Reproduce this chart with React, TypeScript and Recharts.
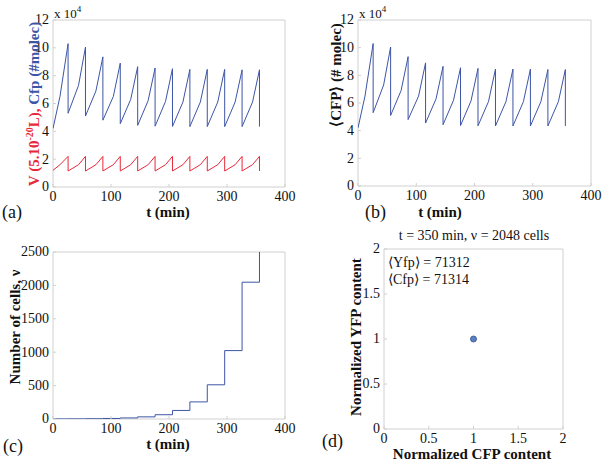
import { Line, LineChart, ReferenceArea, Scatter, ScatterChart, XAxis, YAxis } from 'recharts';

// time (min) and protein content for the single lineage plotted in (a) and (b)
const cfpTime = [
  0, 12, 26, 26, 44, 56, 56, 74, 86, 86, 104, 116, 116, 134, 146, 146, 164, 176, 176, 194, 206, 206,
  224, 236, 236, 254, 266, 266, 284, 296, 296, 314, 326, 326, 344, 356, 356,
];
const cfpMolec = [
  42000, 65000, 103000, 53000, 73000, 100500, 51000, 69000, 93500, 48000, 65000, 89000, 45500, 63000,
  86500, 44300, 62000, 85500, 43700, 61500, 85000, 43500, 61000, 84500, 43400, 61000, 84500, 43400,
  61000, 84500, 43400, 61000, 84200, 43400, 61000, 84200, 43400,
];
const volTime = cfpTime;
const volume = [
  12000, 16000, 22000, 11500, 16000, 22000, 11500, 16000, 22000, 11500, 16000, 22000, 11500, 16000,
  22000, 11500, 16000, 22000, 11500, 16000, 22000, 11500, 16000, 22000, 11500, 16000, 22000, 11500,
  16000, 22000, 11500, 16000, 22000, 11500, 16000, 22000, 11500,
];

// population size after each division
const divisionTime = [0, 26, 56, 86, 116, 146, 176, 206, 236, 266, 296, 326, 356];
const cellCount = [1, 2, 4, 8, 16, 32, 64, 128, 256, 512, 1024, 2048, 4096];

// normalized distribution at t = 350 min
const normCfp = [1];
const normYfp = [1];

const timeTicks = [0, 100, 200, 300, 400];
const cfpTicks = [0, 20000, 40000, 60000, 80000, 100000, 120000];
const cellTicks = [0, 500, 1000, 1500, 2000, 2500];
const normTicks = [0, 0.5, 1, 1.5, 2];

const W = 605;
const H = 461;
const FONT = '"Liberation Serif", "Times New Roman", serif';
const BLUE = '#3d55a6';
const RED = '#e8283a';
const FRAME = '#d0d0d0';

const cfpRows = cfpTime.map((t, i) => ({ t, cfp: cfpMolec[i] }));
const volRows = volTime.map((t, i) => ({ t, v: volume[i] }));
const cellRows = divisionTime.map((t, i) => ({ t, n: cellCount[i] }));
const normRows = normCfp.map((x, i) => ({ x, y: normYfp[i] }));

const box = (left: number, top: number, right: number, bottom: number) => ({
  top,
  left: left - 40,
  right: W - right,
  bottom: H - bottom - 30,
});

const layer: React.CSSProperties = { position: 'absolute', left: 0, top: 0, fontFamily: FONT };

const XTick = (p: any) => (
  <text x={p.x} y={p.y} dy="0.71em" textAnchor="middle" fontFamily={FONT} fontSize={14} fill="#111">
    {p.payload.value}
  </text>
);

const yTick = (fmt?: (v: number) => string) => (p: any) => (
  <text x={p.x} y={p.y} dy="0.32em" textAnchor="end" fontFamily={FONT} fontSize={14} fill="#111">
    {fmt ? fmt(p.payload.value) : p.payload.value}
  </text>
);

function axes(xKey: string, xDomain: number[], xTicks: number[], yKey: string, yDomain: number[], yTicks: number[], yFmt?: (v: number) => string) {
  return [
    <XAxis
      key="x"
      dataKey={xKey}
      type="number"
      domain={xDomain}
      ticks={xTicks}
      height={30}
      axisLine={false}
      tickLine={{ stroke: FRAME }}
      tickSize={-3}
      tickMargin={7}
      tick={XTick}
      interval={0}
      allowDataOverflow
    />,
    <YAxis
      key="y"
      dataKey={yKey}
      type="number"
      domain={yDomain}
      ticks={yTicks}
      width={40}
      axisLine={false}
      tickLine={{ stroke: FRAME }}
      tickSize={-3}
      tickMargin={7}
      tick={yTick(yFmt)}
      interval={0}
      allowDataOverflow
    />,
    <ReferenceArea key="frame" x1={xDomain[0]} x2={xDomain[1]} y1={yDomain[0]} y2={yDomain[1]} fill="none" stroke={FRAME} strokeWidth={1} fillOpacity={0} />,
  ];
}

function CfpPanel({ margin, withVolume }: { margin: any; withVolume: boolean }) {
  return (
    <div style={layer}>
      <LineChart width={W} height={H} margin={margin}>
        {axes('t', [0, 400], timeTicks, 'cfp', [0, 120000], cfpTicks, (v: number) => String(v / 10000))}
        {withVolume && (
          <Line data={volRows} dataKey="v" type="linear" stroke={RED} strokeWidth={1} dot={false} isAnimationActive={false} />
        )}
        <Line data={cfpRows} dataKey="cfp" type="linear" stroke={BLUE} strokeWidth={1} dot={false} isAnimationActive={false} />
      </LineChart>
    </div>
  );
}

export default function App() {
  const bold = { fontFamily: FONT, fontWeight: 700, fontSize: 15, fill: '#111' } as const;
  const plain = { fontFamily: FONT, fontSize: 14, fill: '#111' } as const;
  const letter = { fontFamily: FONT, fontSize: 18, fill: '#111' } as const;
  return (
    <div style={{ position: 'absolute', left: 0, top: 0, width: W, height: H, background: '#fff', fontFamily: FONT }}>
      <CfpPanel margin={box(53, 20, 285, 187)} withVolume />
      <CfpPanel margin={box(358, 20, 591, 186)} withVolume={false} />

      <div style={layer}>
        <LineChart width={W} height={H} margin={box(53, 252, 285, 419)}>
          {axes('t', [0, 400], timeTicks, 'n', [0, 2500], cellTicks)}
          <Line data={cellRows} dataKey="n" type="stepAfter" stroke={BLUE} strokeWidth={1} dot={false} isAnimationActive={false} />
        </LineChart>
      </div>

      <div style={layer}>
        <ScatterChart width={W} height={H} margin={box(384, 249, 563, 429)}>
          {axes('x', [0, 2], normTicks, 'y', [0, 2], normTicks)}
          <Scatter
            data={normRows}
            isAnimationActive={false}
            shape={(p: any) => <circle cx={p.cx} cy={p.cy} r={3} fill="#5d80c4" stroke="#2f4f8f" strokeWidth={0.8} />}
          />
        </ScatterChart>
      </div>

      <svg width={W} height={H} style={{ ...layer, pointerEvents: 'none' }}>
        {/* (a) */}
        <text transform="translate(39,104) rotate(-90)" textAnchor="middle" {...bold}>
          <tspan fill={RED}>V (5.10</tspan>
          <tspan fill={RED} fontSize={10} dy={-6}>-20</tspan>
          <tspan fill={RED} dy={6}>L), </tspan>
          <tspan fill={BLUE}>Cfp (#molec)</tspan>
        </text>
        <text x={54} y={18} {...plain} fontSize={13}>
          x 10<tspan fontSize={9} dy={-6}>4</tspan>
        </text>
        <text x={168} y={217} textAnchor="middle" {...bold}>t (min)</text>
        <text x={2} y={218} {...letter}>(a)</text>

        {/* (b) */}
        <text transform="translate(341,75) rotate(-90)" textAnchor="middle" {...bold}>⟨CFP⟩ (# molec)</text>
        <text x={359} y={18} {...plain} fontSize={13}>
          x 10<tspan fontSize={9} dy={-6}>4</tspan>
        </text>
        <text x={440} y={217} textAnchor="middle" {...bold}>t (min)</text>
        <text x={365} y={218} {...letter}>(b)</text>

        {/* (c) */}
        <text transform="translate(20,327) rotate(-90)" textAnchor="middle" {...bold}>Number of cells, ν</text>
        <text x={168} y={449} textAnchor="middle" {...bold}>t (min)</text>
        <text x={3} y={452} {...letter}>(c)</text>

        {/* (d) */}
        <text x={474} y={240} textAnchor="middle" {...plain}>t = 350 min, ν = 2048 cells</text>
        <text x={388} y={267} {...plain}>⟨Yfp⟩ = 71312</text>
        <text x={388} y={284} {...plain}>⟨Cfp⟩ = 71314</text>
        <text transform="translate(361,337) rotate(-90)" textAnchor="middle" {...bold}>Normalized YFP content</text>
        <text x={472} y={459} textAnchor="middle" {...bold}>Normalized CFP content</text>
        <text x={322} y={447} {...letter}>(d)</text>
      </svg>
    </div>
  );
}
